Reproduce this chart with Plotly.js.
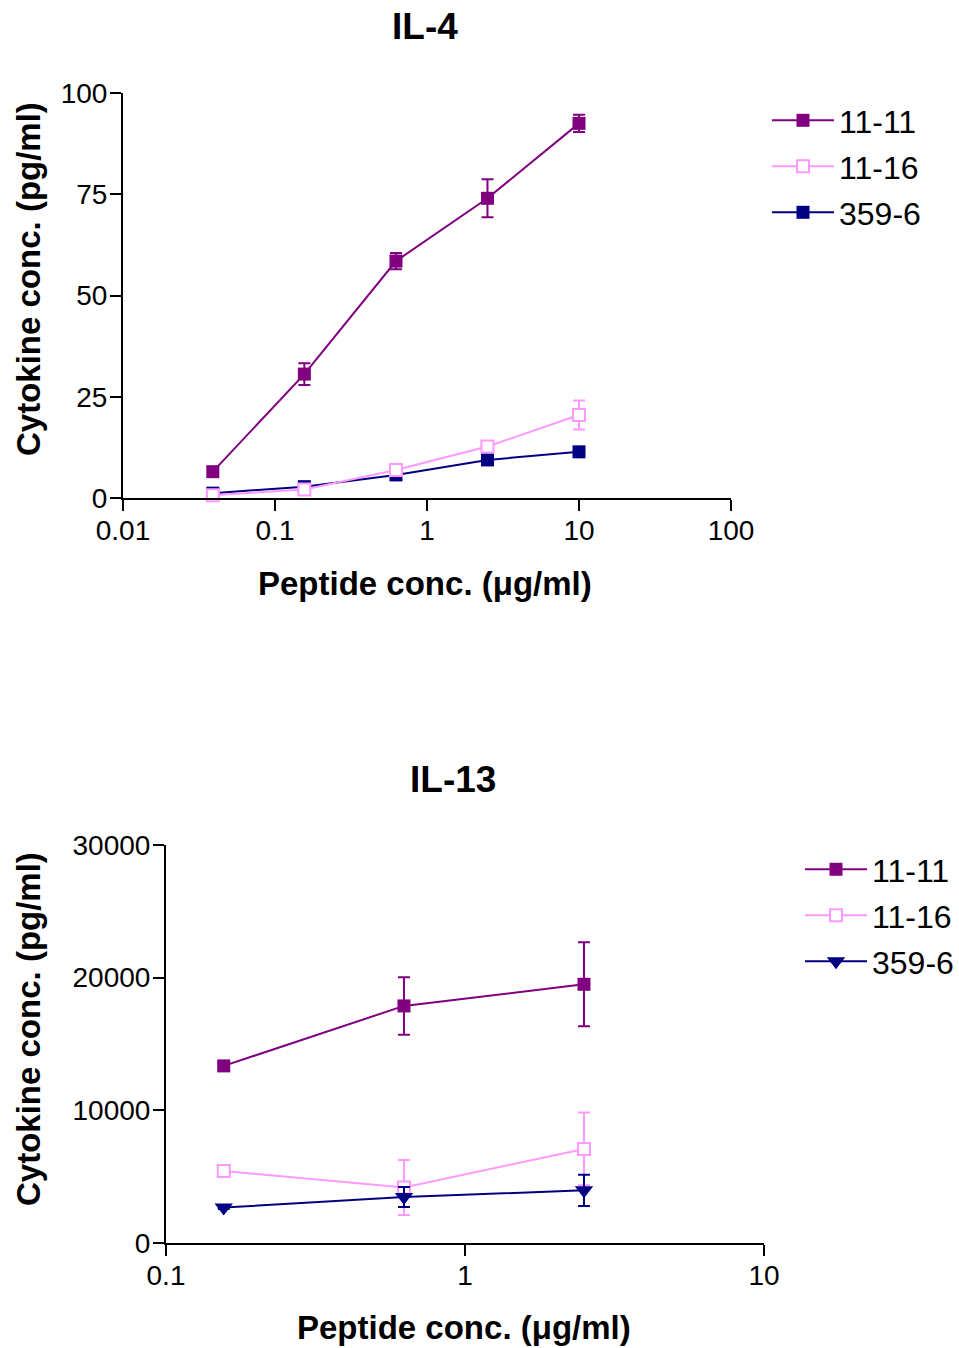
<!DOCTYPE html>
<html>
<head>
<meta charset="utf-8">
<script src="https://cdn.plot.ly/plotly-3.0.1.min.js"></script>
<style>
  html, body { margin: 0; padding: 0; background: #ffffff; }
  #chart { width: 959px; height: 1348px; }
</style>
</head>
<body>
<div id="chart"></div>
<script>
// Peptide dilution series (µg/ml)
const il4Dose = [0.039, 0.156, 0.625, 2.5, 10];
const il13Dose = [0.156, 0.625, 2.5];

// IL-4 response (pg/ml), mean and error
const il4_1111 = [6.5, 30.6, 58.5, 74.0, 92.5];
const il4_1111Err = [0.8, 2.7, 2.0, 4.7, 2.1];
const il4_1116 = [0.7, 2.1, 6.9, 12.7, 20.5];
const il4_1116Err = [0.5, 0.8, 1.0, 1.2, 3.6];
const il4_3596 = [1.2, 2.8, 5.7, 9.4, 11.4];
const il4_3596Err = [1.2, 1.0, 0.8, 0.6, 0.6];

// IL-13 response (pg/ml), mean and error
const il13_1111 = [13350, 17870, 19500];
const il13_1111Err = [300, 2170, 3170];
const il13_1116 = [5430, 4180, 7090];
const il13_1116Err = [200, 2070, 2740];
const il13_3596 = [2670, 3470, 3970];
const il13_3596Err = [100, 750, 1180];

const seriesNames = ['11-11', '11-16', '359-6'];
const il4Ticks = [0.01, 0.1, 1, 10, 100];
const il4TickText = ['0.01', '0.1', '1', '10', '100'];
const il13Ticks = [0.1, 1, 10];
const il13TickText = ['0.1', '1', '10'];
const il4YTicks = [0, 25, 50, 75, 100];
const il13YTicks = [0, 10000, 20000, 30000];

const PURPLE = '#800080', PINK = '#ff99ff', NAVY = '#000080';
const W = 959, H = 1348;
const FONT = 'Liberation Sans, Arial, sans-serif';
const px = v => v / W;
const py = v => 1 - v / H;

function series(x, y, err, name, color, symbol, open, xa, ya, legend, rank, size) {
  return {
    type: 'scatter', mode: 'lines+markers', x: x, y: y, name: name,
    xaxis: xa, yaxis: ya, legend: legend, legendrank: rank,
    legendgroup: legend + '-' + name, cliponaxis: false,
    line: { color: color, width: 2 },
    marker: {
      symbol: symbol, size: size,
      color: open ? '#ffffff' : color,
      line: { color: color, width: open ? 2 : 0 }
    },
    error_y: { type: 'data', array: err, visible: true, color: color, thickness: 2, width: 6 }
  };
}

const data = [
  series(il4Dose, il4_3596, il4_3596Err, seriesNames[2], NAVY, 'square', false, 'x', 'y', 'legend', 3, 13),
  series(il4Dose, il4_1116, il4_1116Err, seriesNames[1], PINK, 'square', true, 'x', 'y', 'legend', 2, 12),
  series(il4Dose, il4_1111, il4_1111Err, seriesNames[0], PURPLE, 'square', false, 'x', 'y', 'legend', 1, 13),
  series(il13Dose, il13_1111, il13_1111Err, seriesNames[0], PURPLE, 'square', false, 'x2', 'y2', 'legend2', 1, 13),
  series(il13Dose, il13_1116, il13_1116Err, seriesNames[1], PINK, 'square', true, 'x2', 'y2', 'legend2', 2, 12),
  series(il13Dose, il13_3596, il13_3596Err, seriesNames[2], NAVY, 'triangle-down', false, 'x2', 'y2', 'legend2', 3, 16)
];

const axisBase = {
  showline: true, linecolor: '#000', linewidth: 2,
  showgrid: false, zeroline: false, ticks: 'outside',
  tickcolor: '#000', tickwidth: 2, tickmode: 'array', ticklen: 11,
  tickfont: { family: FONT, size: 28, color: '#000' }, fixedrange: true
};
const xAxisBase = Object.assign({}, axisBase, { type: 'log', ticklabelstandoff: -5 });
const yAxisBase = Object.assign({}, axisBase, { ticklabelstandoff: -3 });

const legendBase = {
  font: { family: FONT, size: 32, color: '#000' },
  bgcolor: 'rgba(0,0,0,0)', borderwidth: 0, yanchor: 'top',
  itemwidth: 62, traceorder: 'grouped', tracegroupgap: 1.4
};

function label(text, x, y, size, angle) {
  return {
    text: text, xref: 'paper', yref: 'paper', x: px(x), y: py(y),
    xanchor: 'center', yanchor: 'middle', showarrow: false, textangle: angle || 0,
    font: { family: FONT, size: size, color: '#000', weight: 'bold' }
  };
}

const layout = {
  width: W, height: H,
  margin: { l: 0, r: 0, t: 0, b: 0 },
  paper_bgcolor: '#fff', plot_bgcolor: '#fff',
  showlegend: true,
  xaxis: Object.assign({}, xAxisBase, {
    range: [-2, 2], domain: [px(123), px(731)], anchor: 'y',
    tickvals: il4Ticks, ticktext: il4TickText
  }),
  yaxis: Object.assign({}, yAxisBase, {
    range: [0, 100], domain: [py(498), py(93)], anchor: 'x',
    tickvals: il4YTicks, ticktext: il4YTicks.map(String)
  }),
  xaxis2: Object.assign({}, xAxisBase, {
    range: [-1, 1], domain: [px(166), px(764)], anchor: 'y2',
    tickvals: il13Ticks, ticktext: il13TickText
  }),
  yaxis2: Object.assign({}, yAxisBase, {
    range: [0, 30000], domain: [py(1243), py(845)], anchor: 'x2',
    tickvals: il13YTicks, ticktext: il13YTicks.map(String)
  }),
  legend: Object.assign({}, legendBase, { xanchor: 'left', x: px(767), y: py(93) }),
  legend2: Object.assign({}, legendBase, { xanchor: 'right', x: 1, y: py(842) }),
  annotations: [
    label('IL-4', 425, 27, 37),
    label('Peptide conc. (μg/ml)', 425, 583, 33),
    label('Cytokine conc. (pg/ml)', 28, 279, 33, -90),
    label('IL-13', 453, 779, 37),
    label('Peptide conc. (μg/ml)', 464, 1327, 33),
    label('Cytokine conc. (pg/ml)', 28, 1029, 33, -90)
  ]
};

Plotly.newPlot('chart', data, layout, { displayModeBar: false, staticPlot: true });
</script>
</body>
</html>
